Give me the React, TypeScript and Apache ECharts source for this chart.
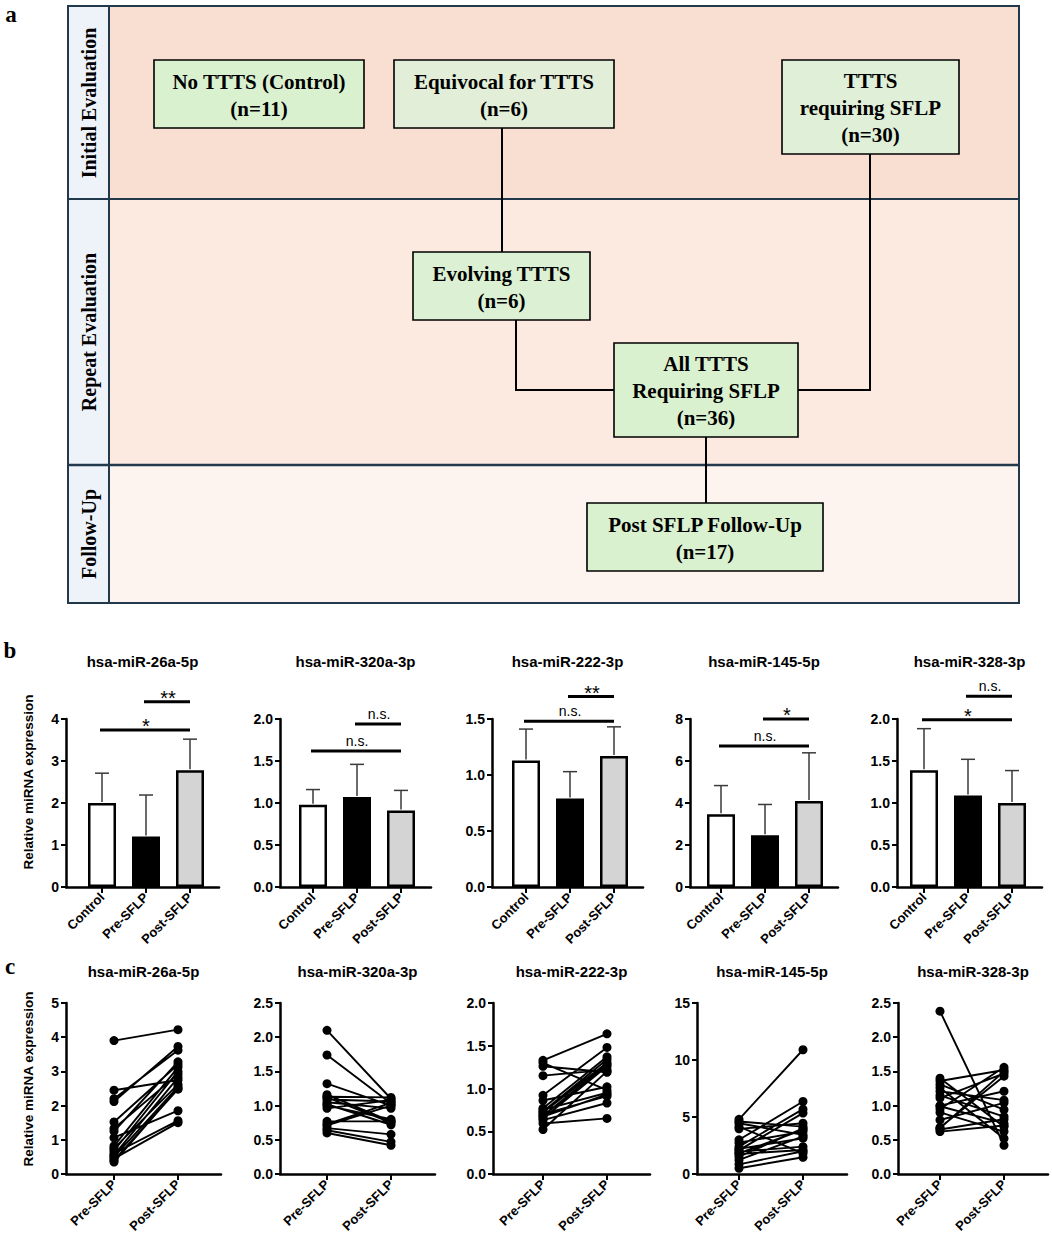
import React, { useEffect, useRef } from "react";
import * as echarts from "echarts";

// ---------- DATA ----------
const genes = ["hsa-miR-26a-5p", "hsa-miR-320a-3p", "hsa-miR-222-3p", "hsa-miR-145-5p", "hsa-miR-328-3p"];
const groups = ["Control", "Pre-SFLP", "Post-SFLP"];
const pairGroups = ["Pre-SFLP", "Post-SFLP"];

// panel b: bar means and upper error (mean + SD)
const barMean = [
  [2.0, 1.2, 2.78],
  [0.98, 1.07, 0.91],
  [1.13, 0.79, 1.17],
  [3.47, 2.46, 4.09],
  [1.39, 1.09, 1.0],
];
const barUpper = [
  [2.71, 2.19, 3.52],
  [1.16, 1.46, 1.15],
  [1.41, 1.03, 1.43],
  [4.83, 3.93, 6.39],
  [1.885, 1.52, 1.386],
];
// significance brackets: from group index -> Post-SFLP (index 2)
const sigFrom = [[0, 1], [0, 1], [0, 1], [0, 1], [0, 1]];
const sigTo = [[2, 2], [2, 2], [2, 2], [2, 2], [2, 2]];
const sigY = [[3.74, 4.41], [1.62, 1.94], [1.48, 1.7], [6.72, 8.0], [1.99, 2.27]];
const sigText = [["*", "**"], ["n.s.", "n.s."], ["n.s.", "**"], ["n.s.", "*"], ["*", "n.s."]];
const bYMax = [4, 2, 1.5, 8, 2];
const bYStep = [1, 0.5, 0.5, 2, 0.5];

// panel c: paired values (n = 17)
const pre26a = [3.9, 2.45, 2.2, 2.12, 1.52, 1.33, 1.25, 1.06, 0.82, 0.75, 0.68, 0.6, 0.55, 0.5, 0.45, 0.4, 0.35];
const post26a = [4.22, 2.75, 3.62, 3.73, 3.2, 2.92, 3.28, 1.85, 3.12, 2.62, 3.0, 1.56, 2.82, 2.55, 1.5, 2.48, 2.5];
const pre320a = [2.1, 1.74, 1.32, 1.16, 1.13, 1.12, 1.09, 1.05, 1.02, 1.0, 0.96, 0.77, 0.73, 0.71, 0.67, 0.64, 0.6];
const post320a = [1.1, 1.03, 1.0, 0.77, 1.12, 0.75, 1.06, 0.96, 0.72, 0.8, 1.08, 0.77, 1.04, 1.0, 0.58, 0.47, 0.42];
const pre222 = [1.33, 1.3, 1.26, 1.15, 0.92, 0.86, 0.77, 0.75, 0.73, 0.72, 0.7, 0.68, 0.67, 0.65, 0.63, 0.59, 0.52];
const post222 = [1.64, 0.98, 1.19, 1.22, 1.48, 1.02, 1.37, 0.95, 1.34, 1.3, 0.91, 1.28, 0.93, 1.26, 0.83, 0.65, 1.2];
const pre145 = [4.8, 4.6, 4.45, 4.16, 3.96, 3.0, 2.75, 2.4, 2.2, 2.1, 1.96, 1.8, 1.76, 1.52, 1.23, 0.85, 0.5];
const post145 = [10.9, 4.16, 3.43, 1.82, 4.45, 6.36, 3.72, 5.69, 3.14, 5.34, 2.4, 3.9, 2.1, 4.0, 3.3, 2.0, 1.47];
const pre328 = [2.38, 1.4, 1.36, 1.31, 1.26, 1.21, 1.15, 1.11, 1.0, 0.99, 0.95, 0.9, 0.79, 0.68, 0.67, 0.65, 0.62];
const post328 = [0.42, 0.69, 1.52, 0.94, 0.52, 1.08, 0.84, 1.47, 1.21, 0.74, 1.56, 0.62, 1.04, 1.43, 1.5, 0.8, 0.71];
const preValues = [pre26a, pre320a, pre222, pre145, pre328];
const postValues = [post26a, post320a, post222, post145, post328];
const cYMax = [5, 2.5, 2, 15, 2.5];
const cYStep = [1, 0.5, 0.5, 5, 0.5];

// panel a: flowchart texts
const stageLabels = ["Initial Evaluation", "Repeat Evaluation", "Follow-Up"];
const boxTexts = [
  "No TTTS (Control)\n(n=11)",
  "Equivocal for TTTS\n(n=6)",
  "TTTS\nrequiring SFLP\n(n=30)",
  "Evolving TTTS\n(n=6)",
  "All TTTS\nRequiring SFLP\n(n=36)",
  "Post SFLP Follow-Up\n(n=17)",
];

// ---------- LAYOUT ----------
const SANS = "'Liberation Sans', Arial, Helvetica, sans-serif";
const SERIF = "'Liberation Serif', 'Times New Roman', serif";
const bLayout = [
  { left: 66, end: 219, first: 102 },
  { left: 280, end: 431, first: 313 },
  { left: 492, end: 643, first: 526 },
  { left: 690, end: 838, first: 721 },
  { left: 897, end: 1042, first: 924 },
];
const B_SP = 44;
const B_TOP = 719;
const B_H = 168;
const cLayout = [
  { left: 66, end: 221, first: 114 },
  { left: 280, end: 435, first: 327 },
  { left: 493, end: 650, first: 543 },
  { left: 697, end: 847, first: 739 },
  { left: 898, end: 1048, first: 940 },
];
const C_SP = 64;
const C_TOP = 1003;
const C_H = 171;
const fills = ["#ffffff", "#000000", "#d4d4d4"];

const boxRects = [
  [154, 60, 210, 68, "#daf1d0"],
  [394, 60, 220, 68, "#e2eed8"],
  [782, 60, 177, 94, "#e0efd8"],
  [413, 252, 177, 68, "#dcf0d3"],
  [614, 343, 184, 94, "#daf1d0"],
  [587, 503, 236, 68, "#daf1d0"],
];

function buildOption() {
  const grid: any[] = [];
  const xAxis: any[] = [];
  const yAxis: any[] = [];
  const series: any[] = [];
  const graphic: any[] = [];

  const axisLineStyle = { color: "#000", width: 2.5 };
  const tickStyle = { color: "#000", width: 2 };

  // ----- panel b -----
  genes.forEach((g, i) => {
    const L = bLayout[i];
    const last = L.first + 2 * B_SP;
    grid.push({ left: L.left, top: B_TOP, width: L.end - L.left, height: B_H });
    xAxis.push({
      gridIndex: i,
      type: "value",
      min: -(L.first - L.left) / B_SP,
      max: 2 + (L.end - last) / B_SP,
      axisLine: { show: true, onZero: false, lineStyle: axisLineStyle },
      axisTick: { show: true, customValues: [0, 1, 2], length: 6, lineStyle: tickStyle },
      axisLabel: {
        customValues: [0, 1, 2],
        formatter: (v: number) => groups[Math.round(v)],
        rotate: 45,
        margin: 8,
        fontSize: 13,
        fontWeight: "bold",
        color: "#000",
        fontFamily: SANS,
      },
      splitLine: { show: false },
    });
    yAxis.push({
      gridIndex: i,
      type: "value",
      min: 0,
      max: bYMax[i],
      interval: bYStep[i],
      axisLine: { show: true, onZero: false, lineStyle: axisLineStyle },
      axisTick: { show: true, length: 5, lineStyle: tickStyle },
      axisLabel: {
        margin: 7,
        fontSize: 14,
        fontWeight: "bold",
        color: "#000",
        fontFamily: SANS,
        formatter: (v: number) => v.toFixed(bYStep[i] >= 1 ? 0 : 1),
      },
      splitLine: { show: false },
    });
    series.push({
      type: "bar",
      xAxisIndex: i,
      yAxisIndex: i,
      barWidth: 28,
      silent: true,
      itemStyle: { borderColor: "#000", borderWidth: 2.5 },
      data: groups.map((_, j) => ({ value: [j, barMean[i][j]], itemStyle: { color: fills[j] } })),
    });
    series.push({
      type: "custom",
      xAxisIndex: i,
      yAxisIndex: i,
      silent: true,
      z: 1,
      encode: { x: 0, y: [1, 2] },
      data: groups.map((_, j) => [j, barMean[i][j], barUpper[i][j]]),
      renderItem: (params: any, api: any) => {
        const x = api.value(0);
        const p0 = api.coord([x, api.value(1)]);
        const p1 = api.coord([x, api.value(2)]);
        const st = { stroke: "#3a3a3a", lineWidth: 1.5 };
        return {
          type: "group",
          children: [
            { type: "line", shape: { x1: p0[0], y1: p0[1] - 1, x2: p1[0], y2: p1[1] }, style: st },
            { type: "line", shape: { x1: p1[0] - 7, y1: p1[1], x2: p1[0] + 7, y2: p1[1] }, style: st },
          ],
        };
      },
    });
    series.push({
      type: "custom",
      xAxisIndex: i,
      yAxisIndex: i,
      silent: true,
      clip: false,
      encode: { x: [0, 1], y: 2 },
      data: sigY[i].map((y, k) => [sigFrom[i][k], sigTo[i][k], y]),
      renderItem: (params: any, api: any) => {
        const y = api.value(2);
        const a = api.coord([api.value(0), y]);
        const b = api.coord([api.value(1), y]);
        const label = sigText[i][params.dataIndex];
        const isStar = label.indexOf("*") >= 0;
        return {
          type: "group",
          children: [
            { type: "line", shape: { x1: a[0] - 2, y1: a[1], x2: b[0], y2: b[1] }, style: { stroke: "#000", lineWidth: 3 } },
            {
              type: "text",
              x: (a[0] + b[0]) / 2,
              y: isStar ? a[1] - 4 : a[1] - 10,
              style: {
                text: label,
                fill: "#000",
                fontSize: isStar ? 20 : 14,
                fontFamily: SANS,
                align: "center",
                verticalAlign: "middle",
              },
            },
          ],
        };
      },
    });
    graphic.push({
      type: "text",
      x: (L.left + L.end) / 2,
      y: 661,
      style: { text: g, fill: "#000", fontSize: 15, fontWeight: "bold", fontFamily: SANS, align: "center", verticalAlign: "middle" },
    });
  });

  // ----- panel c -----
  genes.forEach((g, i) => {
    const idx = 5 + i;
    const L = cLayout[i];
    const last = L.first + C_SP;
    grid.push({ left: L.left, top: C_TOP, width: L.end - L.left, height: C_H });
    xAxis.push({
      gridIndex: idx,
      type: "value",
      min: -(L.first - L.left) / C_SP,
      max: 1 + (L.end - last) / C_SP,
      axisLine: { show: true, onZero: false, lineStyle: axisLineStyle },
      axisTick: { show: true, customValues: [0, 1], length: 6, lineStyle: tickStyle },
      axisLabel: {
        customValues: [0, 1],
        formatter: (v: number) => pairGroups[Math.round(v)],
        rotate: 45,
        margin: 8,
        fontSize: 13,
        fontWeight: "bold",
        color: "#000",
        fontFamily: SANS,
      },
      splitLine: { show: false },
    });
    yAxis.push({
      gridIndex: idx,
      type: "value",
      min: 0,
      max: cYMax[i],
      interval: cYStep[i],
      axisLine: { show: true, onZero: false, lineStyle: axisLineStyle },
      axisTick: { show: true, length: 5, lineStyle: tickStyle },
      axisLabel: {
        margin: 7,
        fontSize: 14,
        fontWeight: "bold",
        color: "#000",
        fontFamily: SANS,
        formatter: (v: number) => v.toFixed(cYStep[i] >= 1 ? 0 : 1),
      },
      splitLine: { show: false },
    });
    const data: any[] = [];
    preValues[i].forEach((p, k) => {
      data.push([0, p]);
      data.push([1, postValues[i][k]]);
      data.push([0.5, "-"]);
    });
    series.push({
      type: "line",
      xAxisIndex: idx,
      yAxisIndex: idx,
      silent: true,
      connectNulls: false,
      symbol: "circle",
      symbolSize: 9,
      itemStyle: { color: "#000" },
      lineStyle: { color: "#000", width: 1.9 },
      data,
    });
    graphic.push({
      type: "text",
      x: (L.left + L.end) / 2,
      y: 971,
      style: { text: g, fill: "#000", fontSize: 15, fontWeight: "bold", fontFamily: SANS, align: "center", verticalAlign: "middle" },
    });
  });

  // axis titles
  [782, 1079].forEach((cy) => {
    graphic.push({
      type: "text",
      x: 28,
      y: cy,
      rotation: Math.PI / 2,
      style: { text: "Relative miRNA expression", fill: "#000", fontSize: 13.5, fontWeight: "bold", fontFamily: SANS, align: "center", verticalAlign: "middle" },
    });
  });

  // panel letters
  [["a", 11, 14], ["b", 10, 650], ["c", 10, 966]].forEach(([t, x, y]) => {
    graphic.push({
      type: "text",
      x,
      y,
      style: { text: t, fill: "#000", fontSize: 23, fontWeight: "bold", fontFamily: SERIF, align: "center", verticalAlign: "middle" },
    });
  });

  // ----- panel a (flowchart) -----
  const frameColor = "#22394b";
  const fa: any[] = [];
  fa.push({ type: "rect", shape: { x: 109, y: 6, width: 910, height: 193 }, style: { fill: "#f9ded2" } });
  fa.push({ type: "rect", shape: { x: 109, y: 199, width: 910, height: 266 }, style: { fill: "#fce9e0" } });
  fa.push({ type: "rect", shape: { x: 109, y: 465, width: 910, height: 138 }, style: { fill: "#fdf4f0" } });
  fa.push({ type: "rect", shape: { x: 68, y: 6, width: 41, height: 597 }, style: { fill: "#eef3fa" } });
  fa.push({ type: "rect", shape: { x: 68, y: 6, width: 951, height: 597 }, style: { fill: "none", stroke: frameColor, lineWidth: 2 } });
  fa.push({ type: "line", shape: { x1: 109, y1: 6, x2: 109, y2: 603 }, style: { stroke: frameColor, lineWidth: 2 } });
  fa.push({ type: "line", shape: { x1: 68, y1: 199, x2: 1019, y2: 199 }, style: { stroke: frameColor, lineWidth: 2 } });
  fa.push({ type: "line", shape: { x1: 68, y1: 465, x2: 1019, y2: 465 }, style: { stroke: frameColor, lineWidth: 2.5 } });
  const stageCenters = [103, 332, 534];
  stageLabels.forEach((t, k) => {
    fa.push({
      type: "text",
      x: 89,
      y: stageCenters[k],
      rotation: Math.PI / 2,
      style: { text: t, fill: "#000", fontSize: 20, fontWeight: "bold", fontFamily: SERIF, align: "center", verticalAlign: "middle" },
    });
  });
  // connectors
  const conn = { stroke: "#000", lineWidth: 2, fill: "none" };
  fa.push({ type: "polyline", shape: { points: [[502, 128], [502, 252]] }, style: conn });
  fa.push({ type: "polyline", shape: { points: [[870, 154], [870, 390], [798, 390]] }, style: conn });
  fa.push({ type: "polyline", shape: { points: [[516, 320], [516, 390], [614, 390]] }, style: conn });
  fa.push({ type: "polyline", shape: { points: [[706, 437], [706, 503]] }, style: conn });
  boxRects.forEach((b: any, k) => {
    const [x, y, w, h, c] = b;
    fa.push({ type: "rect", shape: { x, y, width: w, height: h }, style: { fill: c, stroke: "#000", lineWidth: 1.6 } });
    fa.push({
      type: "text",
      x: x + w / 2,
      y: y + h / 2 + 1,
      style: {
        text: boxTexts[k],
        fill: "#000",
        fontSize: 21,
        fontWeight: "bold",
        fontFamily: SERIF,
        lineHeight: 27,
        align: "center",
        verticalAlign: "middle",
      },
    });
  });

  return {
    animation: false,
    backgroundColor: "#ffffff",
    grid,
    xAxis,
    yAxis,
    series,
    graphic: [...fa, ...graphic],
  };
}

export default function App() {
  const ref = useRef<HTMLDivElement>(null);
  useEffect(() => {
    document.body.style.margin = "0";
    const chart = echarts.init(ref.current as HTMLDivElement, null, { renderer: "svg" });
    chart.setOption(buildOption() as any);
    return () => chart.dispose();
  }, []);
  return <div ref={ref} style={{ width: 1052, height: 1244 }} />;
}
